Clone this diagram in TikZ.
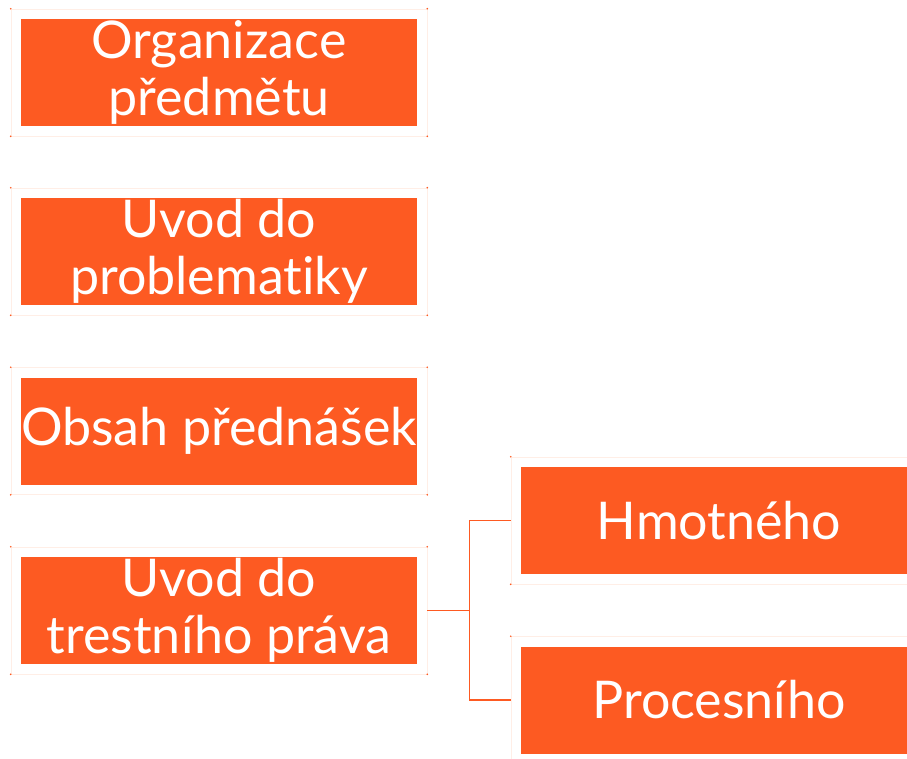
\documentclass[tikz,border=0pt]{standalone}
\usepackage{fontspec}
\setmainfont{Lato}[Ligatures=NoCommon]
\usetikzlibrary{calc}

\definecolor{boxorange}{HTML}{FD5A22}
\definecolor{framepink}{HTML}{FFEEE6}

\tikzset{
	box/.style={fill=boxorange, text=white, inner sep=0,
	            minimum width=396pt, minimum height=107pt,
	            align=center, font=\fontsize{52}{57}\selectfont},
	frame/.style={draw=framepink, line width=0.6pt, inner sep=0,
	              minimum width=416pt, minimum height=127pt},
	link/.style={draw=boxorange, line width=1.4pt}
}

\begin{document}
\begin{tikzpicture}[x=1pt, y=-1pt]
	\clip (0, 0) rectangle (907, 758);
	
	% Left column
	\foreach \name/\yy/\txt in {org/72.5/{Organizace\\předmětu},
	                            uvod/251.5/{Uvod do\\problematiky},
	                            obsah/431/{Obsah přednášek},
	                            trest/610.5/{Uvod do\\trestního práva}}{
		\node (\name frame) at (219, \yy) [frame] {};
		\node (\name) at (219, \yy) [box] {\txt};
		\foreach \c in {north west, north east, south west, south east}{
			\fill [boxorange] (\name frame.\c) circle (0.9pt);
		}
	}
	
	% Right column
	\foreach \name/\yy/\txt in {hmot/520.5/Hmotného,
	                            proc/700/Procesního}{
		\node (\name frame) at (719, \yy) [frame] {};
		\node (\name) at (719, \yy) [box] {\txt};
		\foreach \c in {north west, south west}{
			\fill [boxorange] (\name frame.\c) circle (0.9pt);
		}
	}
	
	% Links
	\coordinate (split) at ($(trestframe.east) + (42, 0)$);
	\draw [link] (trestframe.east) -- (split);
	\draw [link] (split) |- (hmotframe.west);
	\draw [link] (split) |- (procframe.west);
	
\end{tikzpicture}
\end{document}
